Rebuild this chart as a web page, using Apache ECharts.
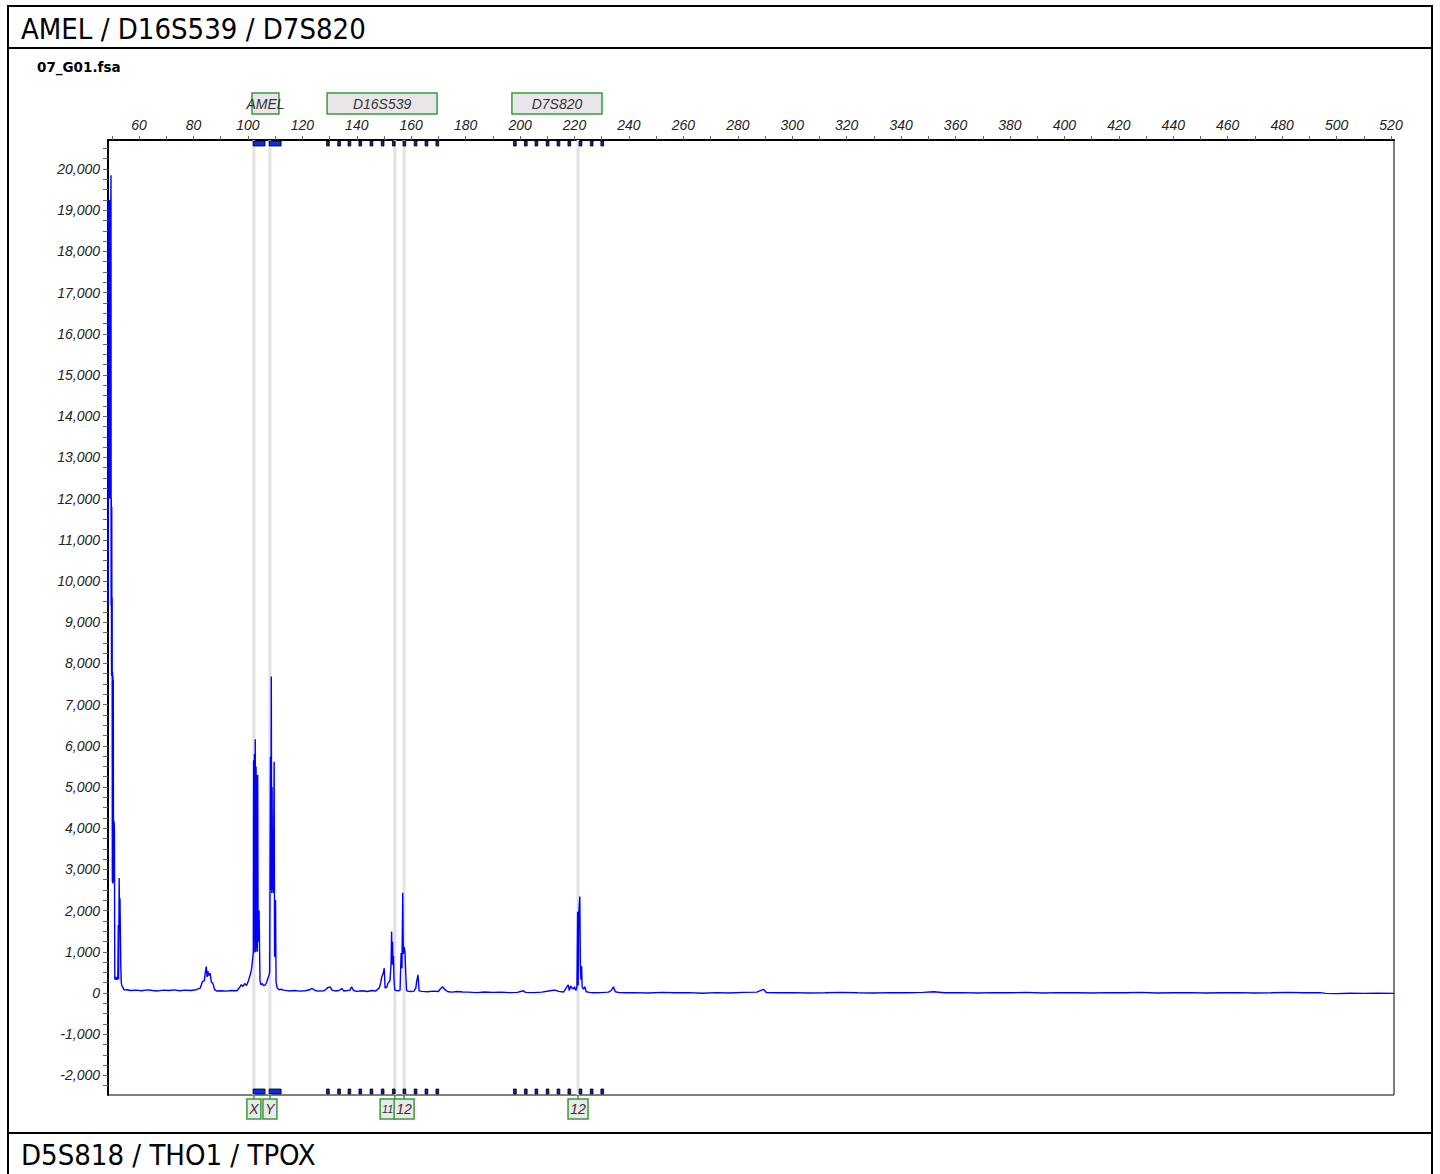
<!DOCTYPE html>
<html>
<head>
<meta charset="utf-8">
<title>AMEL / D16S539 / D7S820</title>
<script src="https://cdn.jsdelivr.net/npm/echarts@6.0.0/dist/echarts.min.js"></script>
<style>
  html, body { margin: 0; padding: 0; background: #fff; }
  #chart { width: 1440px; height: 1174px; }
</style>
</head>
<body>
<div id="chart"></div>
<script>
// 面板标题与样本名
const panelTitle = 'AMEL / D16S539 / D7S820'
const nextPanelTitle = 'D5S818 / THO1 / TPOX'
const sampleName = '07_G01.fsa'

// 坐标轴刻度标签
const sizeLabels = [60, 80, 100, 120, 140, 160, 180, 200, 220, 240, 260, 280, 300, 320, 340, 360, 380, 400, 420, 440, 460, 480, 500, 520]
const rfuLabels = [-2000, -1000, 0, 1000, 2000, 3000, 4000, 5000, 6000, 7000, 8000, 9000, 10000, 11000, 12000, 13000, 14000, 15000, 16000, 17000, 18000, 19000, 20000]

// 位点范围 (bp)
const lociNames = ['AMEL', 'D16S539', 'D7S820']
const lociStart = [101.5, 129.1, 197.0]
const lociEnd = [111.4, 169.5, 230.1]

// bins
const amelBins = [[101.9, 106.3], [107.8, 112.2]]
const d16s539Bins = [129.4, 133.5, 137.3, 141.3, 145.4, 149.5, 153.6, 157.5, 161.6, 165.6, 169.6]
const d7s820Bins = [198.1, 202.1, 206.0, 210.1, 214.1, 218.1, 222.2, 226.3, 230.2]

// 判定的等位基因
const alleleNames = ['X', 'Y', '11', '12', '12']
const alleleSizes = [102.2, 108.1, 154.0, 157.4, 221.3]

// 蓝色通道信号 [bp, RFU]
const frontTrace = [
  [48.65, 9400], [48.72, 19200], [48.8, 12100], [48.87, 19150], [48.95, 12000], [49.02, 19200],
  [49.1, 12050], [49.17, 19250], [49.25, 12000], [49.32, 19200], [49.4, 12100], [49.47, 19200],
  [49.55, 12000], [49.62, 19200], [49.7, 19850], [49.75, 9400], [49.82, 12000], [49.9, 7700],
  [49.97, 11800], [50.05, 7750], [50.12, 9600], [50.2, 2700], [50.27, 7800], [50.34, 2660],
  [50.41, 7700], [50.48, 2700], [50.55, 7600], [50.62, 2700], [50.7, 4200], [50.78, 2800],
  [50.86, 4150], [50.95, 3900], [51.1, 330], [51.3, 380], [51.5, 320], [51.7, 390], [51.95, 330],
  [52.2, 350], [52.39, 1650], [52.5, 330], [52.7, 2790], [52.85, 1700], [53.0, 2300], [53.15, 1400],
  [53.3, 650], [53.5, 240], [53.75, 170], [54.1, 130], [54.5, 75],
  [55.5, 80], [57, 60], [59, 70], [61, 55], [63, 75], [65, 60], [67, 50], [69, 70], [71, 60],
  [73, 75], [75, 55], [77, 70], [79, 60], [81, 80],
  [82.5, 120], [83.3, 275], [84.0, 300], [84.4, 520], [84.7, 640], [85.0, 390], [85.3, 530],
  [85.7, 420], [86.1, 480], [86.6, 260], [87.1, 240], [87.8, 80], [88.5, 50], [90, 55], [92, 45],
  [94, 60], [96.0, 55], [97.0, 140], [97.6, 200], [98.2, 160], [98.8, 230], [99.5, 180],
  [100.2, 300], [100.8, 430], [101.3, 560], [101.7, 800], [102.0, 1000]
]
const amelTrace = [
  [102.1, 5650], [102.25, 1300], [102.4, 5800], [102.55, 980], [102.7, 6160], [102.85, 1000],
  [103.0, 5500], [103.15, 1100], [103.3, 5300], [103.45, 1000], [103.6, 5290], [103.75, 1250],
  [103.9, 1300], [104.1, 2000], [104.25, 1250], [104.45, 300], [104.8, 200], [105.3, 230],
  [105.8, 180], [106.4, 200], [106.9, 260], [107.3, 350], [107.7, 420], [108.0, 500],
  [108.3, 5735], [108.45, 2500], [108.6, 7680], [108.75, 2430], [108.9, 5000], [109.05, 2500],
  [109.2, 4000], [109.35, 2430], [109.5, 3950], [109.65, 5610], [109.8, 900], [109.95, 880],
  [110.15, 2260], [110.35, 250], [110.8, 120], [111.5, 80], [112.5, 90]
]
const d16s539Trace = [
  [113, 70], [115, 50], [117, 60], [119, 45], [121, 55], [122.8, 80], [123.5, 110], [124.7, 60],
  [126, 45], [128, 55], [129.4, 130], [130.2, 150], [130.9, 70], [132, 50], [133.5, 60],
  [134.5, 110], [135.2, 50], [136.5, 60], [137.5, 70], [138.1, 150], [138.8, 60], [140, 40],
  [142, 55], [144, 35], [145.5, 60], [147, 50], [148.3, 130], [148.8, 250], [149.2, 400],
  [149.6, 450], [150.1, 600], [150.4, 120], [151, 140], [151.5, 240], [152.2, 300], [152.6, 700],
  [152.8, 1490], [153.0, 700], [153.15, 1245], [153.3, 680], [153.5, 900], [153.7, 300],
  [154.0, 70], [154.6, 60], [155.3, 50], [155.9, 70], [156.3, 970], [156.6, 600], [156.9, 2430],
  [157.1, 950], [157.4, 1120], [157.7, 1000], [158.0, 480], [158.3, 60], [159, 40], [160, 35],
  [161, 45], [161.7, 120], [162.0, 275], [162.5, 440], [162.9, 50], [164, 40], [166, 30],
  [168, 45], [170, 35], [170.6, 90], [171.5, 150], [172.4, 80], [173.5, 30], [175, 20],
  [177, 35], [179, 25]
]
const d7s820Trace = [
  [181, 20], [184, 10], [187, 25], [190, 15], [193, 20], [196, 10], [199, 15], [201.2, 55],
  [202, 15], [205, 10], [208, 20], [211.6, 60], [213, 70], [214.1, 40], [216, 25], [217.7, 195],
  [218.1, 60], [218.6, 170], [219.1, 120], [219.6, 100], [220.0, 150], [220.5, 60], [220.9, 150],
  [221.15, 1970], [221.35, 180], [221.55, 1900], [221.95, 2340], [222.15, 700], [222.35, 320],
  [222.6, 655], [222.8, 150], [223.3, 90], [223.8, 150], [224.3, 30], [225.5, 15], [227, 5],
  [229.4, 10], [231, 15], [232.5, 20], [233.5, 60], [234.3, 150], [235.0, 30], [236.5, 10], [239, 5]
]
const tailTrace = [
  [242, 10], [247, 0], [252, 15], [257, 5], [262, 10], [267, -5], [272, 10], [277, 0], [282, 15],
  [287, 20], [289.4, 90], [290.5, 10], [295, 5], [300, 10], [306, 0], [312, 5], [318, 15], [324, 5],
  [330, 0], [336, 10], [342, 5], [348, 15], [352, 30], [356, 5], [362, 10], [368, 0], [374, 10],
  [380, 5], [386, 15], [392, 0], [398, 10], [404, 5], [410, 0], [416, 10], [422, 5], [428, 15],
  [434, 0], [440, 5], [446, 10], [452, 0], [458, 5], [464, 10], [470, 0], [476, 5], [482, 15],
  [488, 5], [494, 10], [496, -10], [500, -15], [505, -5], [510, -10], [515, -5], [521.1, -10]
]

;(function () {
  const green = '#3a9a3a'
  const tagFill = '#ebe8eb'
  const labelFont = "'Liberation Sans', Arial, sans-serif"

  const trace = frontTrace.concat(amelTrace, d16s539Trace, d7s820Trace, tailTrace)
  const sizeTicks = [50].concat(sizeLabels.flatMap((v) => [v, v + 10])).filter((v) => v <= 521)
  const rfuTicks = [-2250].concat(rfuLabels.flatMap((v) => [v, v + 250, v + 500, v + 750])).filter((v) => v <= 20700)

  const binData = amelBins
    .concat(d16s539Bins.map((c) => [c - 0.5, c + 0.5]))
    .concat(d7s820Bins.map((c) => [c - 0.5, c + 0.5]))

  // 标签框宽度
  const tagWidth = (name) => 8 + 6 * name.length

  let myChart = echarts.init(document.getElementById('chart'), null, { renderer: 'svg' })
  let options = {
    animation: false,
    backgroundColor: '#fff',
    grid: {
      left: 108,
      top: 140,
      width: 1286,
      height: 955,
      show: true,
      borderColor: '#000',
      borderWidth: 1,
    },
    xAxis: {
      type: 'value',
      position: 'top',
      min: 48.6,
      max: 521.1,
      axisLine: { onZero: false, lineStyle: { color: '#000', width: 2 } },
      axisTick: {
        length: 4,
        lineStyle: { color: '#666' },
        customValues: sizeTicks,
      },
      axisLabel: {
        customValues: sizeLabels,
        margin: 8,
        color: '#222',
        fontSize: 14,
        fontStyle: 'italic',
        fontFamily: labelFont,
      },
      splitLine: { show: false },
    },
    yAxis: {
      type: 'value',
      min: -2476,
      max: 20704,
      axisLine: { show: true, onZero: false, lineStyle: { color: '#000', width: 2 } },
      axisTick: {
        show: true,
        length: 5,
        lineStyle: { color: '#666' },
        customValues: rfuTicks,
      },
      axisLabel: {
        customValues: rfuLabels,
        margin: 8,
        color: '#222',
        fontSize: 14,
        fontStyle: 'italic',
        fontFamily: labelFont,
        formatter: (v) => Number(v).toLocaleString('en-US'),
      },
      splitLine: { show: false },
    },
    graphic: [
      // 外框和分隔线
      { type: 'rect', shape: { x: 8, y: 6, width: 1424, height: 1190 }, style: { fill: 'none', stroke: '#000', lineWidth: 2 } },
      { type: 'line', shape: { x1: 8, y1: 48, x2: 1432, y2: 48 }, style: { stroke: '#000', lineWidth: 2 } },
      { type: 'line', shape: { x1: 8, y1: 1133, x2: 1432, y2: 1133 }, style: { stroke: '#000', lineWidth: 2 } },
      {
        type: 'text',
        style: {
          text: panelTitle, x: 21, y: 29, verticalAlign: 'middle',
          fontSize: 29, fontFamily: "'DejaVu Sans Condensed', 'Noto Sans', sans-serif", fill: '#000',
        },
      },
      {
        type: 'text',
        style: {
          text: sampleName, x: 37, y: 67, verticalAlign: 'middle',
          fontSize: 13.5, fontWeight: 'bold', fontFamily: "'DejaVu Sans', sans-serif", fill: '#000',
        },
      },
      {
        type: 'text',
        style: {
          text: nextPanelTitle, x: 21, y: 1155, verticalAlign: 'middle',
          fontSize: 29, fontFamily: "'DejaVu Sans Condensed', 'Noto Sans', sans-serif", fill: '#000',
        },
      },
    ],
    series: [
      {
        // 等位基因竖线
        name: 'alleleLines',
        type: 'custom',
        z: 1,
        silent: true,
        data: alleleSizes.map((s) => [s, 0]),
        renderItem: function (params, api) {
          const cs = params.coordSys
          const x = api.coord([api.value(0), 0])[0]
          return {
            type: 'line',
            shape: { x1: x, y1: cs.y, x2: x, y2: cs.y + cs.height },
            style: { stroke: '#e4e0e4', lineWidth: 3 },
          }
        },
      },
      {
        name: 'trace',
        type: 'line',
        z: 2,
        data: trace,
        showSymbol: false,
        lineStyle: { color: '#0000ff', width: 1.4 },
        itemStyle: { color: '#0000ff' },
      },
      {
        // bins 上下两排
        name: 'bins',
        type: 'custom',
        z: 3,
        clip: false,
        silent: true,
        data: binData,
        renderItem: function (params, api) {
          const cs = params.coordSys
          const lo = api.coord([api.value(0), 0])[0]
          const hi = api.coord([api.value(1), 0])[0]
          const wide = hi - lo > 5
          const st = { fill: wide ? '#0a2cf0' : '#1818b0', stroke: '#000', lineWidth: 0.8 }
          return {
            type: 'group',
            children: [
              { type: 'rect', shape: { x: lo, y: cs.y + 1, width: hi - lo, height: 5 }, style: st },
              { type: 'rect', shape: { x: lo, y: cs.y + cs.height - 6, width: hi - lo, height: 5 }, style: st },
            ],
          }
        },
      },
      {
        // 位点标签框
        name: 'loci',
        type: 'custom',
        z: 3,
        clip: false,
        silent: true,
        data: lociStart.map((s, i) => [s, lociEnd[i]]),
        renderItem: function (params, api) {
          const cs = params.coordSys
          const lo = api.coord([api.value(0), 0])[0]
          const hi = api.coord([api.value(1), 0])[0]
          return {
            type: 'group',
            children: [
              {
                type: 'rect',
                shape: { x: lo, y: cs.y - 47, width: hi - lo, height: 21 },
                style: { fill: '#e9e6ea', stroke: green, lineWidth: 1.5 },
              },
              {
                type: 'text',
                style: {
                  text: lociNames[params.dataIndex],
                  x: (lo + hi) / 2, y: cs.y - 36.5,
                  align: 'center', verticalAlign: 'middle',
                  fontSize: 14, fontStyle: 'italic', fontFamily: labelFont, fill: '#333',
                },
              },
            ],
          }
        },
      },
      {
        // 等位基因标签，挤在一起时往左让开
        name: 'alleleTags',
        type: 'custom',
        z: 3,
        clip: false,
        silent: true,
        data: alleleSizes.map((s) => [s, 0]),
        renderItem: function (params, api) {
          const cs = params.coordSys
          const i = params.dataIndex
          const x = api.coord([api.value(0), 0])[0]
          const name = alleleNames[i]
          let w = tagWidth(name)
          let cx = x
          let fs = 14
          if (i + 1 < alleleSizes.length) {
            const nx = api.coord([alleleSizes[i + 1], 0])[0]
            const nextLeft = nx - tagWidth(alleleNames[i + 1]) / 2
            if (cx + w / 2 > nextLeft + 1) {
              w = 15
              fs = 11
              cx = nextLeft + 1 - w / 2
            }
          }
          const top = cs.y + cs.height + 4
          return {
            type: 'group',
            children: [
              { type: 'line', shape: { x1: x, y1: cs.y + cs.height, x2: x, y2: top }, style: { stroke: green, lineWidth: 1.5 } },
              {
                type: 'rect',
                shape: { x: cx - w / 2, y: top, width: w, height: 20 },
                style: { fill: tagFill, stroke: green, lineWidth: 1.5 },
              },
              {
                type: 'text',
                style: {
                  text: name, x: cx, y: top + 10,
                  align: 'center', verticalAlign: 'middle',
                  fontSize: fs, fontStyle: 'italic', fontFamily: labelFont, fill: '#333',
                },
              },
            ],
          }
        },
      },
    ],
  }
  myChart.setOption(options)
  window.addEventListener('resize', () => {
    myChart.resize()
  })
})()
</script>
</body>
</html>
